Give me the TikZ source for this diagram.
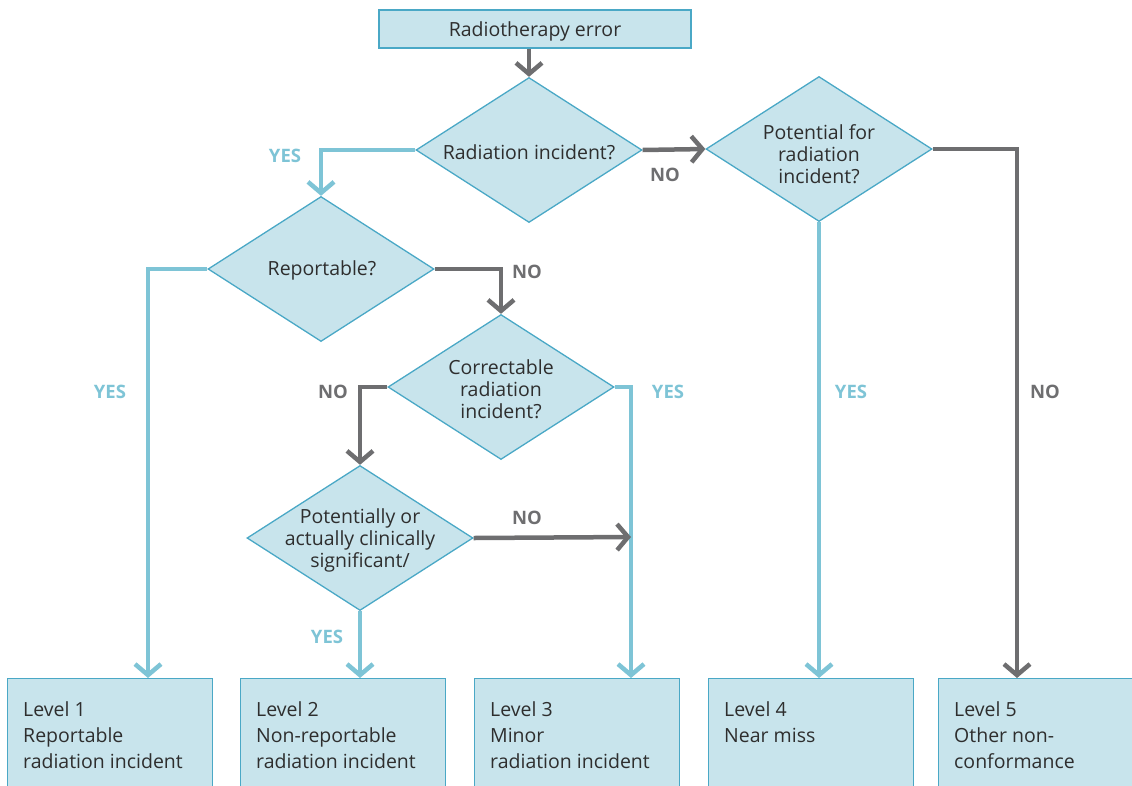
\documentclass[tikz,border=0pt]{standalone}
\usepackage{fontspec}
\setmainfont{Open Sans}
\usetikzlibrary{arrows.meta,shapes.geometric}
\definecolor{fillc}{HTML}{C8E4EC}
\definecolor{edgec}{HTML}{4AA8C6}
\definecolor{bluec}{HTML}{7EC4D6}
\definecolor{grayc}{HTML}{6E6E70}
\definecolor{txtc}{HTML}{2E2E2E}
\tikzset{
  x=1pt, y=-1pt,
  diam/.style={diamond, draw=edgec, fill=fillc, line width=1.3pt, inner sep=0pt, minimum width=226pt, minimum height=145pt},
  dtext/.style={align=center, text=txtc, font=\fontsize{19.5}{22}\selectfont, inner sep=0pt},
  topbox/.style={rectangle, draw=edgec, fill=fillc, line width=1.3pt, minimum width=312pt, minimum height=38pt},
  levelbox/.style={rectangle, draw=edgec, fill=fillc, line width=1.3pt, minimum width=205pt, minimum height=120pt, anchor=north west},
  ltext/.style={anchor=north west, align=left, text=txtc, font=\fontsize{19.5}{26}\selectfont, inner sep=0pt},
  conn/.style={line width=4.5pt},
  garrow/.style={conn, draw=grayc, -{Straight Barb[length=11pt,width=26pt,line width=4.5pt]}},
  barrow/.style={conn, draw=bluec, -{Straight Barb[length=11pt,width=26pt,line width=4.5pt]}},
  ylab/.style={text=bluec, font=\fontsize{18.5}{20}\selectfont\bfseries, inner sep=0pt},
  nlab/.style={text=grayc, font=\fontsize{18.5}{20}\selectfont\bfseries, inner sep=0pt},
}
\begin{document}
\begin{tikzpicture}
\useasboundingbox (0,0) rectangle (1132,785);
\clip (0,0) rectangle (1132,785);
% top box
\node[topbox] (t) at (535,29) {};
\node[dtext] at (535,31) {Radiotherapy error};
% diamonds
\node[diam] (d1) at (529,150) {};
\node[dtext] at (529,152) {Radiation incident?};
\node[diam] (d3) at (819,149) {};
\node[dtext] at (819,154) {Potential for\\radiation\\incident?};
\node[diam] (d2) at (321,269) {};
\node[dtext] at (322,270) {Reportable?};
\node[diam] (d4) at (501,387) {};
\node[dtext] at (501,389) {Correctable\\radiation\\incident?};
\node[diam] (d5) at (360,538) {};
\node[dtext] at (360,540) {Potentially or\\actually clinically\\significant/};
% level boxes
\node[levelbox] (b1) at (7,678) {};
\node[ltext] at ([xshift=16pt,yshift=-23pt]b1.north west) {Level 1\\Reportable\\radiation incident};
\node[levelbox] (b2) at (240,678) {};
\node[ltext] at ([xshift=16pt,yshift=-23pt]b2.north west) {Level 2\\Non-reportable\\radiation incident};
\node[levelbox] (b3) at (474,678) {};
\node[ltext] at ([xshift=16pt,yshift=-23pt]b3.north west) {Level 3\\Minor\\radiation incident};
\node[levelbox] (b4) at (708,678) {};
\node[ltext] at ([xshift=16pt,yshift=-23pt]b4.north west) {Level 4\\Near miss};
\node[levelbox] (b5) at (938,678) {};
\node[ltext] at ([xshift=16pt,yshift=-23pt]b5.north west) {Level 5\\Other non-\\conformance};
% helper coordinates
\coordinate (k1) at (148,0);
\coordinate (k3) at (631,0);
\coordinate (k5) at (1017,0);
\coordinate (m5) at (631,537);
% connectors
\draw[garrow] (d1.north |- t.south) -- (d1.north);
\draw[barrow] (d1.west) -| (d2.north);
\draw[garrow] (d1.east) -- (d3.west);
\draw[barrow] (d3.south) -- (d3.south |- b4.north);
\draw[garrow] (d3.east) -| (b5.north -| k5);
\draw[barrow] (d2.west) -| (b1.north -| k1);
\draw[garrow] (d2.east) -| (d4.north);
\draw[garrow] (d4.west) -| (d5.north);
\draw[barrow] (d4.east) -| (b3.north -| k3);
\draw[garrow] (d5.east) -- (m5);
\draw[barrow] (d5.south) -- (d5.south |- b2.north);
% labels
\node[ylab] at (285,156) {YES};
\node[nlab] at (665,175) {NO};
\node[nlab] at (527,272) {NO};
\node[ylab] at (110,392) {YES};
\node[nlab] at (333,392) {NO};
\node[ylab] at (668,392) {YES};
\node[ylab] at (851,392) {YES};
\node[nlab] at (1045,392) {NO};
\node[nlab] at (527,518) {NO};
\node[ylab] at (327,637) {YES};
\end{tikzpicture}
\end{document}
